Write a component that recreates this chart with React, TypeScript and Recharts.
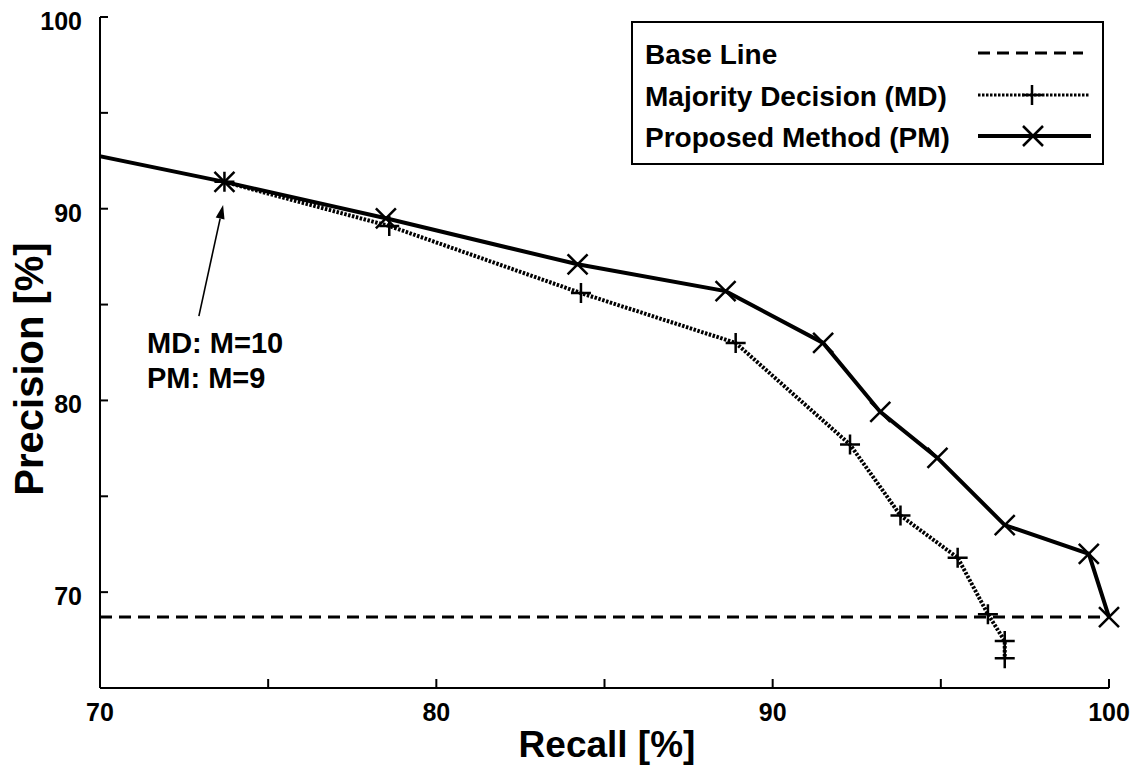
import { Line, LineChart, ReferenceLine, XAxis, YAxis } from "recharts";

const FONT = "'Liberation Sans', Arial, Helvetica, sans-serif";

// Proposed Method (PM)
const pmRecall = [73.7, 78.5, 84.2, 88.6, 91.5, 93.2, 94.9, 96.9, 99.4, 100.0];
const pmPrecision = [91.4, 89.5, 87.1, 85.7, 83.0, 79.4, 77.0, 73.5, 72.0, 68.7];
// PM point left of the shown range, the line enters from the y axis
const pmLeadRecall = [66.5, 73.7];
const pmLeadPrecision = [94.0, 91.4];

// Majority Decision (MD)
const mdRecall = [73.7, 78.6, 84.3, 88.9, 92.3, 93.8, 95.5, 96.4, 96.9, 96.9];
const mdPrecision = [91.4, 89.1, 85.6, 83.0, 77.7, 74.0, 71.8, 68.85, 67.45, 66.55];

// Base Line
const baseRecall = [70, 100];
const basePrecision = [68.7, 68.7];

const xTicks = [70, 75, 80, 85, 90, 95, 100];
const yTicks = [70, 75, 80, 85, 90, 95, 100];

// annotation arrow (recall, precision)
const arrowFrom = [72.94, 84.4];
const arrowTo = [73.66, 90.2];

const zip = (xs: number[], ys: number[]) =>
  xs.map((recall, i) => ({ recall, precision: ys[i] }));

const pmData = zip(pmRecall, pmPrecision);
const pmLead = zip(pmLeadRecall, pmLeadPrecision);
const mdData = zip(mdRecall, mdPrecision);
const baseData = zip(baseRecall, basePrecision);

const isMajor = (v: number) => v % 10 === 0;

function CrossDot(props: any) {
  const { cx, cy } = props;
  if (cx == null || cy == null) return null;
  const s = 10;
  return (
    <path
      d={`M${cx - s},${cy - s}L${cx + s},${cy + s}M${cx - s},${cy + s}L${cx + s},${cy - s}`}
      stroke="#000"
      strokeWidth={2.5}
      fill="none"
    />
  );
}

function PlusDot(props: any) {
  const { cx, cy } = props;
  if (cx == null || cy == null) return null;
  const s = 10;
  return (
    <path
      d={`M${cx - s},${cy}L${cx + s},${cy}M${cx},${cy - s}L${cx},${cy + s}`}
      stroke="#000"
      strokeWidth={2.5}
      fill="none"
    />
  );
}

function Arrow(props: any) {
  const { x1, y1, x2, y2 } = props;
  const a = Math.atan2(y2 - y1, x2 - x1);
  const len = 14;
  const w = 4.5;
  const bx = x2 - len * Math.cos(a);
  const by = y2 - len * Math.sin(a);
  const px = -Math.sin(a) * w;
  const py = Math.cos(a) * w;
  return (
    <g>
      <line x1={x1} y1={y1} x2={bx} y2={by} stroke="#000" strokeWidth={1.6} />
      <polygon
        points={`${x2},${y2} ${bx + px},${by + py} ${bx - px},${by - py}`}
        fill="#000"
      />
    </g>
  );
}

function XTick(props: any) {
  const { x, y, payload } = props;
  if (!isMajor(payload.value)) return null;
  return (
    <text x={x} y={y + 18} textAnchor="middle" fontSize={25} fontWeight={700} fontFamily={FONT} fill="#000">
      {payload.value}
    </text>
  );
}

function YTick(props: any) {
  const { x, y, payload } = props;
  if (!isMajor(payload.value)) return null;
  return (
    <text x={x} y={y + 13} textAnchor="end" fontSize={25} fontWeight={700} fontFamily={FONT} fill="#000">
      {payload.value}
    </text>
  );
}

const axisStyle = { stroke: "#000", strokeWidth: 2 };

export default function App() {
  return (
    <div style={{ position: "absolute", left: 0, top: 0, width: 1144, height: 771, background: "#fff" }}>
      <LineChart
        width={1144}
        height={771}
        margin={{ top: 17, right: 35, bottom: 23, left: 20 }}
      >
        <XAxis
          xAxisId="b"
          type="number"
          dataKey="recall"
          domain={[70, 100]}
          ticks={xTicks}
          interval={0}
          tickSize={-9}
          tickMargin={24}
          axisLine={axisStyle}
          tickLine={axisStyle}
          tick={XTick}
          height={60}
        />
        <XAxis
          xAxisId="t"
          orientation="top"
          type="number"
          domain={[70, 100]}
          ticks={xTicks}
          interval={0}
          tick={false}
          tickSize={-9}
          axisLine={axisStyle}
          tickLine={axisStyle}
          height={0}
        />
        <XAxis
          xAxisId="clip"
          type="number"
          dataKey="recall"
          domain={[70, 100]}
          allowDataOverflow
          hide
        />
        <YAxis
          yAxisId="l"
          type="number"
          domain={[65, 100]}
          ticks={yTicks}
          interval={0}
          tickSize={-8}
          tickMargin={26}
          axisLine={axisStyle}
          tickLine={axisStyle}
          tick={YTick}
          width={80}
        />
        <YAxis
          yAxisId="r"
          orientation="right"
          type="number"
          domain={[65, 100]}
          ticks={yTicks}
          interval={0}
          tick={false}
          tickSize={-8}
          axisLine={axisStyle}
          tickLine={axisStyle}
          width={0}
        />

        <Line
          xAxisId="b"
          yAxisId="l"
          data={baseData}
          dataKey="precision"
          stroke="#000"
          strokeWidth={3}
          strokeDasharray="12 7"
          dot={false}
          isAnimationActive={false}
        />
        <Line
          xAxisId="clip"
          yAxisId="l"
          data={pmLead}
          dataKey="precision"
          stroke="#000"
          strokeWidth={4}
          dot={false}
          isAnimationActive={false}
        />
        <Line
          xAxisId="b"
          yAxisId="l"
          data={mdData}
          dataKey="precision"
          stroke="#000"
          strokeWidth={4}
          strokeDasharray="2.5 1.5"
          dot={PlusDot}
          isAnimationActive={false}
        />
        <Line
          xAxisId="b"
          yAxisId="l"
          data={pmData}
          dataKey="precision"
          stroke="#000"
          strokeWidth={4}
          dot={CrossDot}
          isAnimationActive={false}
        />
        <ReferenceLine
          xAxisId="b"
          yAxisId="l"
          segment={[
            { x: arrowFrom[0], y: arrowFrom[1] },
            { x: arrowTo[0], y: arrowTo[1] },
          ]}
          shape={Arrow}
        />
      </LineChart>

      <svg
        width={1144}
        height={771}
        style={{ position: "absolute", left: 0, top: 0, pointerEvents: "none" }}
        fontFamily={FONT}
        fontWeight={700}
      >
        {/* axis titles */}
        <text x={607} y={757} fontSize={37} textAnchor="middle">
          Recall [%]
        </text>
        <text transform="translate(43,369) rotate(-90)" fontSize={40} textAnchor="middle">
          Precision [%]
        </text>

        {/* annotation */}
        <text x={147} y={353} fontSize={29}>MD: M=10</text>
        <text x={147} y={388} fontSize={29}>PM: M=9</text>

        {/* legend */}
        <rect x={632} y={22} width={471} height={142} fill="#fff" stroke="#000" strokeWidth={2} />
        <g fontSize={28} style={{ whiteSpace: "pre" }}>
          <text x={645} y={64}>Base Line</text>
          <text x={645} y={106}>{"Majority Decision  (MD)"}</text>
          <text x={645} y={147}>{"Proposed Method  (PM)"}</text>
        </g>
        <line x1={978} y1={53} x2={1083} y2={53} stroke="#000" strokeWidth={3} strokeDasharray="12 7" />
        <line x1={978} y1={95} x2={1090} y2={95} stroke="#000" strokeWidth={3} strokeDasharray="2.5 1.5" />
        <PlusDot cx={1032} cy={95} />
        <line x1={978} y1={136} x2={1091} y2={136} stroke="#000" strokeWidth={4} />
        <CrossDot cx={1033} cy={136} />
      </svg>
    </div>
  );
}
